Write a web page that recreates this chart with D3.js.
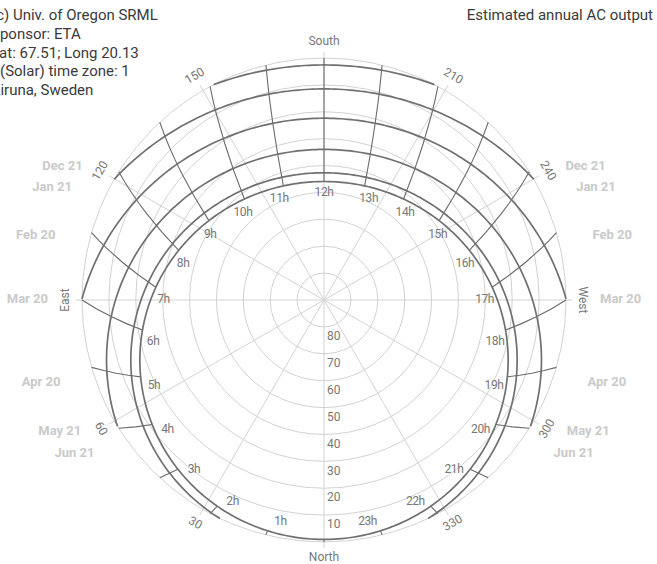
<!DOCTYPE html>
<html>
<head>
<meta charset="utf-8">
<script src="https://cdn.jsdelivr.net/npm/d3@7"></script>
<style>
    body { margin: 0; background: #fff; }
    svg { display: block; }
    text { font-family: Roboto, "Noto Sans", sans-serif; }
</style>
</head>
<body>
<svg id="chart"></svg>
<script>
    // site info (from the chart header)
    let siteLat = 67.51
    let infoLines = ["(c) Univ. of Oregon SRML", "Sponsor: ETA", "Lat: 67.51; Long 20.13", "(Solar) time zone: 1", "Kiruna, Sweden"]
    let title = "Estimated annual AC output"

    // dates shown on the chart and their solar declination
    let dateNames = ["Dec 21", "Jan 21", "Feb 20", "Mar 20", "Apr 20", "May 21", "Jun 21"]
    let declinations = [-23.44, -19.9, -11.0, -0.1, 11.5, 20.2, 23.44]

    // solar hours for hour lines / labels
    let hourLines = [0, 1, 2, 3, 4, 5, 6, 7, 8, 9, 10, 11, 12, 13, 14, 15, 16, 17, 18, 19, 20, 21, 22, 23]
    let hourLabels = [1, 2, 3, 4, 5, 6, 7, 8, 9, 10, 11, 12, 13, 14, 15, 16, 17, 18, 19, 20, 21, 22, 23]

    // elevation rings and azimuth spokes
    let ringElevations = [0, 10, 20, 30, 40, 50, 60, 70, 80]
    let ringLabels = [10, 20, 30, 40, 50, 60, 70, 80]
    let azimuthTicks = [0, 30, 60, 90, 120, 150, 180, 210, 240, 270, 300, 330]
    let cardinals = { 0: "North", 90: "East", 180: "South", 270: "West" }

    let width = 657
    let height = 564
    let cx = 324
    let cy = 300
    let R = 242

    let svg = d3.select("#chart").attr("width", width).attr("height", height)

    // elevation -> radius (90 at centre, horizon at R)
    let rScale = d3.scaleLinear().domain([90, 0]).range([0, R])

    // sky projection: zenith in the middle, south up, east left
    let projection = d3.geoAzimuthalEquidistant()
        .rotate([0, -siteLat, 180])
        .scale(R / (Math.PI / 2))
        .translate([cx, cy])
        .clipAngle(90)
        .precision(0.2)
    let path = d3.geoPath(projection)

    function polar(az, r) {
        let a = az * Math.PI / 180
        return [cx - r * Math.sin(a), cy + r * Math.cos(a)]
    }
    // keep rotated labels readable
    function upright(az) {
        let a = az - 180
        if (a > 90) a -= 180
        if (a < -90) a += 180
        return a
    }

    // GRID
    let grid = svg.append("g")
    grid.selectAll("circle")
        .data(ringElevations)
        .enter().append("circle")
        .attr("cx", cx).attr("cy", cy)
        .attr("r", d => rScale(d))
        .attr("fill", "none")
        .attr("stroke", "#d2d2d2")
        .attr("stroke-width", 1)

    grid.selectAll("line")
        .data(azimuthTicks)
        .enter().append("line")
        .attr("x1", cx).attr("y1", cy)
        .attr("x2", d => polar(d, R + 6)[0])
        .attr("y2", d => polar(d, R + 6)[1])
        .attr("stroke", "#d2d2d2")
        .attr("stroke-width", 1)

    grid.selectAll(".ringLabel")
        .data(ringLabels)
        .enter().append("text")
        .attr("class", "ringLabel")
        .attr("x", cx + 3)
        .attr("y", d => cy + rScale(d) + 10)
        .attr("dominant-baseline", "middle")
        .attr("font-size", 12)
        .attr("fill", "#777")
        .text(d => d)

    grid.selectAll(".azLabel")
        .data(azimuthTicks)
        .enter().append("text")
        .attr("class", "azLabel")
        .attr("transform", d => {
            let p = polar(d, 258)
            return `translate(${p[0]},${p[1]}) rotate(${upright(d)})`
        })
        .attr("text-anchor", "middle")
        .attr("dominant-baseline", "middle")
        .attr("font-size", 12)
        .attr("fill", "#777")
        .text(d => cardinals[d] || d)

    // SUN PATHS
    let hourLon = h => 15 * (12 - h)

    let hourG = svg.append("g")
    hourG.selectAll("path")
        .data(hourLines)
        .enter().append("path")
        .attr("d", h => path({ type: "LineString", coordinates: [[hourLon(h), d3.min(declinations)], [hourLon(h), d3.max(declinations)]] }))
        .attr("fill", "none")
        .attr("stroke", "#6a6a6a")
        .attr("stroke-width", 1.1)

    let dateG = svg.append("g")
    dateG.selectAll("path")
        .data(declinations)
        .enter().append("path")
        .attr("d", dec => {
            let ring = d3.geoCircle().center([0, 90]).radius(90 - dec).precision(1)().coordinates[0]
            return path({ type: "LineString", coordinates: ring })
        })
        .attr("fill", "none")
        .attr("stroke", "#707070")
        .attr("stroke-width", 1.7)

    hourG.selectAll("text")
        .data(hourLabels)
        .enter().append("text")
        .attr("x", h => projection([hourLon(h) + 2.5 * Math.sign(hourLon(h)), 27.8])[0])
        .attr("y", h => projection([hourLon(h) + 2.5 * Math.sign(hourLon(h)), 27.8])[1])
        .attr("text-anchor", "middle")
        .attr("dominant-baseline", "middle")
        .attr("font-size", 12)
        .attr("letter-spacing", -0.4)
        .attr("fill", "#777")
        .text(h => h + "h")

    // DATE LABELS (both sides)
    let labelAngle = [29, 24, 13.4, 0, -17.3, -28.4, -33.7]
    let dateLabels = svg.append("g")
    ;[-1, 1].forEach(side => {
        dateLabels.selectAll(".side" + side)
            .data(dateNames)
            .enter().append("text")
            .attr("x", (d, i) => cx + side * 276 * Math.cos(labelAngle[i] * Math.PI / 180))
            .attr("y", (d, i) => cy - 276 * Math.sin(labelAngle[i] * Math.PI / 180))
            .attr("text-anchor", side < 0 ? "end" : "start")
            .attr("dominant-baseline", "middle")
            .attr("font-size", 13)
            .attr("font-weight", "bold")
            .attr("fill", "#cacaca")
            .text(d => d)
    })

    // HEADER TEXT (left block runs off the edge like the original)
    svg.append("g").selectAll("text")
        .data(infoLines)
        .enter().append("text")
        .attr("x", (d, i) => i === 3 ? 0 : -9)
        .attr("y", (d, i) => 20 + i * 18.8)
        .attr("font-size", 15)
        .attr("fill", "#3a3a3a")
        .text(d => d)

    svg.append("text")
        .attr("x", 653)
        .attr("y", 20)
        .attr("text-anchor", "end")
        .attr("font-size", 15)
        .attr("fill", "#3a3a3a")
        .text(title)
</script>
</body>
</html>
